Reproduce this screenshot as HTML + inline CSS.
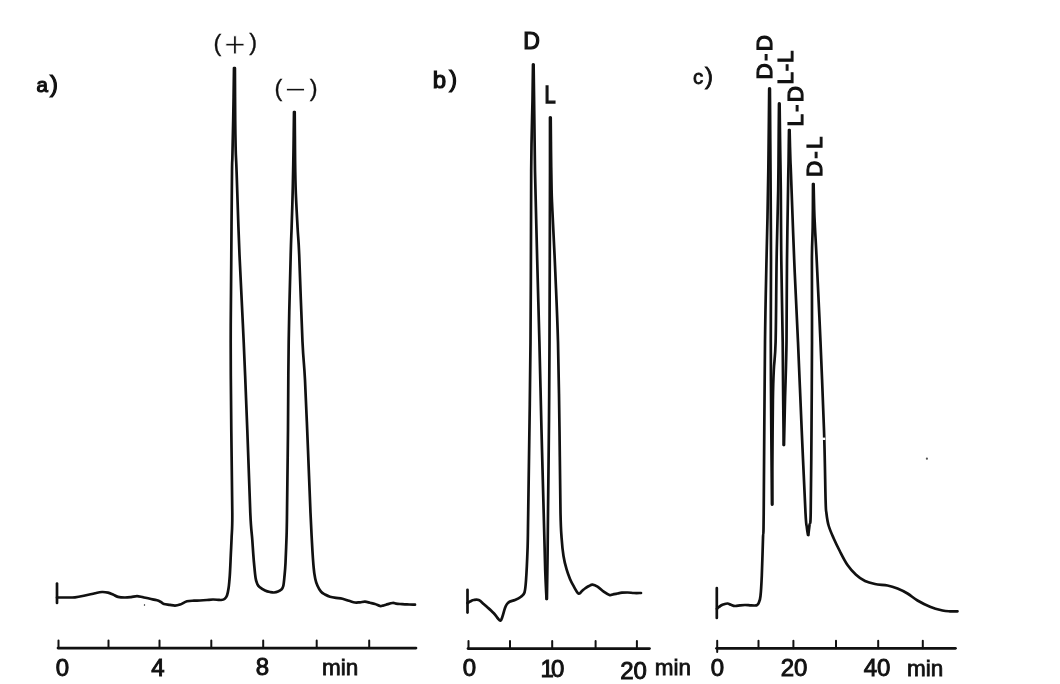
<!DOCTYPE html>
<html><head><meta charset="utf-8"><title>Chromatograms</title>
<style>
html,body{margin:0;padding:0;background:#fff;}
body{width:1060px;height:684px;overflow:hidden;}
svg{display:block;}
svg path{fill:none;stroke:#111;stroke-linecap:round;stroke-linejoin:round;}
svg text{font-family:"Liberation Sans","DejaVu Sans",sans-serif;fill:#111;}
svg text{stroke:none;}svg text.p{stroke:#111;stroke-width:0.35px;}svg text.b{stroke:#111;stroke-width:0.8px;}svg text.bb{stroke:#111;stroke-width:1.2px;}svg text.d{stroke:#111;stroke-width:0.95px;}svg .lt{stroke:#fff;stroke-width:0.9px;}
</style></head>
<body>
<svg width="1060" height="684" viewBox="0 0 1060 684">
<rect width="1060" height="684" fill="#fff"/>
<circle cx="926.9" cy="458.7" r="1.1" fill="#555"/><ellipse cx="144.5" cy="605" rx="0.7" ry="1.1" fill="#555"/><path d="M57.0 597.5 C58.5 597.5 63.0 597.5 66.0 597.5 C69.0 597.5 71.8 597.6 75.0 597.3 C78.2 597.0 81.7 596.2 85.0 595.5 C88.3 594.8 92.2 593.8 95.0 593.2 C97.8 592.6 99.8 592.1 102.0 592.0 C104.2 591.9 106.2 592.2 108.0 592.6 C109.8 593.0 111.3 593.8 113.0 594.5 C114.7 595.2 116.0 596.4 118.0 596.9 C120.0 597.4 122.8 597.5 125.0 597.5 C127.2 597.5 129.0 597.3 131.0 597.1 C133.0 596.9 135.0 596.1 137.0 596.1 C139.0 596.1 140.8 596.8 143.0 597.2 C145.2 597.7 147.7 598.3 150.0 598.8 C152.3 599.3 155.2 599.8 157.0 600.3 C158.8 600.8 159.8 601.4 161.0 602.0 C162.2 602.6 162.5 603.5 164.0 604.0 C165.5 604.5 168.2 604.6 170.0 604.9 C171.8 605.2 173.3 605.6 175.0 605.6 C176.7 605.6 178.0 605.3 180.0 604.6 C182.0 603.9 184.7 601.9 187.0 601.2 C189.3 600.6 191.8 600.8 194.0 600.7 C196.2 600.6 197.8 600.6 200.0 600.5 C202.2 600.4 204.8 600.2 207.0 600.0 C209.2 599.8 211.2 599.5 213.0 599.5 C214.8 599.5 216.7 599.7 218.0 599.8 C219.3 599.9 219.9 600.1 221.0 600.0 C222.1 599.9 223.5 599.8 224.5 599.0 C225.5 598.2 226.3 597.3 227.0 595.5 C227.7 593.7 228.1 591.3 228.6 588.0 C229.1 584.7 229.4 581.0 229.8 575.5 C230.2 570.0 230.5 561.2 230.8 555.0 C231.1 548.8 231.3 545.0 231.6 538.0 C231.8 531.0 232.4 531.0 232.3 513.0 C232.2 495.0 231.6 458.5 231.3 430.0 C231.0 401.5 230.7 371.2 230.7 342.0 C230.7 312.8 231.1 283.3 231.3 255.0 C231.5 226.7 231.8 188.3 232.0 172.0 C232.2 155.7 232.2 165.7 232.4 157.0 C232.6 148.3 232.9 134.8 233.2 120.0 C233.5 105.2 233.9 76.7 234.0 68.0" stroke-width="2.7"/>
<path d="M234.9 68.0 C234.9 76.7 235.1 106.3 235.2 120.0 C235.3 133.7 235.5 141.3 235.7 150.0 C235.9 158.7 236.0 154.5 236.6 172.0 C237.2 189.5 238.3 226.7 239.5 255.0 C240.7 283.3 242.4 312.8 243.7 342.0 C245.0 371.2 246.2 401.5 247.3 430.0 C248.4 458.5 249.5 494.7 250.3 513.0 C251.1 531.3 251.7 531.7 252.3 540.0 C252.9 548.3 253.4 556.7 254.0 563.0 C254.6 569.3 255.0 574.5 255.6 578.0 C256.1 581.5 256.7 582.5 257.3 584.0 C257.9 585.5 258.2 585.9 259.5 587.0 C260.8 588.1 263.2 589.7 265.0 590.5 C266.8 591.3 268.5 591.7 270.0 592.0 C271.5 592.3 272.7 592.6 274.0 592.5 C275.3 592.4 276.8 592.1 278.0 591.6 C279.2 591.1 280.1 590.7 281.0 589.8 C281.9 588.9 282.7 588.5 283.3 586.0 C283.9 583.5 284.2 578.8 284.6 575.0 C285.0 571.2 285.2 569.2 285.5 563.0 C285.8 556.8 286.2 546.3 286.5 538.0 C286.8 529.7 286.8 531.0 287.0 513.0 C287.2 495.0 287.7 458.5 288.0 430.0 C288.3 401.5 288.2 371.2 288.7 342.0 C289.1 312.8 290.2 274.0 290.7 255.0 C291.2 236.0 291.2 239.3 291.6 228.0 C292.0 216.7 292.5 200.0 292.8 187.0 C293.1 174.0 293.3 162.5 293.5 150.0 C293.7 137.5 293.9 118.3 294.0 112.0" stroke-width="2.7"/>
<path d="M294.7 112.0 C294.8 118.3 294.9 137.5 295.0 150.0 C295.1 162.5 295.2 174.0 295.6 187.0 C296.0 200.0 297.0 216.7 297.6 228.0 C298.2 239.3 298.4 236.0 299.2 255.0 C300.0 274.0 301.5 321.2 302.5 342.0 C303.5 362.8 304.1 362.0 305.0 380.0 C305.9 398.0 307.1 427.8 308.0 450.0 C308.9 472.2 309.8 497.5 310.5 513.0 C311.2 528.5 311.5 533.8 312.0 543.0 C312.5 552.2 313.1 562.0 313.7 568.0 C314.2 574.0 314.7 576.0 315.3 579.0 C315.9 582.0 316.6 583.7 317.5 585.8 C318.4 587.9 319.8 590.2 321.0 591.7 C322.2 593.2 323.5 593.7 325.0 594.5 C326.5 595.3 328.2 596.2 330.0 596.7 C331.8 597.2 333.9 597.5 336.0 597.8 C338.1 598.1 340.3 598.2 342.5 598.7 C344.7 599.2 346.9 600.2 349.0 600.8 C351.1 601.4 353.2 602.2 355.0 602.5 C356.8 602.8 358.3 602.4 360.0 602.3 C361.7 602.2 363.3 601.6 365.0 601.7 C366.7 601.8 368.3 602.4 370.0 602.8 C371.7 603.2 373.3 603.5 375.0 604.0 C376.7 604.5 378.7 605.7 380.0 606.0 C381.3 606.3 382.0 605.8 383.0 605.6 C384.0 605.4 384.4 605.1 386.0 604.7 C387.6 604.3 390.8 603.2 392.5 603.0 C394.2 602.8 394.8 603.4 396.0 603.6 C397.2 603.8 398.2 603.9 400.0 604.0 C401.8 604.1 404.5 604.3 407.0 604.4 C409.5 604.5 413.7 604.7 415.0 604.7" stroke-width="2.7"/>
<path d="M57.0 583.5 L57.0 603.0" stroke-width="2.7"/>
<path d="M58.5 648.1 V640.5 M108.5 648.1 V640.5 M159.5 648.1 V640.5 M211.3 648.1 V640.5 M263.2 648.1 V640.5 M316.7 648.1 V640.5 M369.2 648.1 V640.5" stroke-width="2.0"/>
<path d="M58.0 648.1 H416.0" stroke-width="2.7"/>
<path d="M467.5 603.0 C468.0 602.7 469.5 601.8 470.5 601.3 C471.5 600.8 472.3 600.2 473.7 600.0 C475.1 599.8 477.0 599.3 478.7 600.0 C480.4 600.7 482.3 602.8 483.7 604.0 C485.1 605.2 485.8 605.9 487.0 607.0 C488.2 608.1 489.8 609.3 491.0 610.5 C492.2 611.7 493.4 612.8 494.5 614.0 C495.6 615.2 496.5 616.9 497.5 618.0 C498.5 619.1 499.7 620.9 500.5 620.7 C501.3 620.5 501.6 619.1 502.3 617.0 C503.1 614.9 504.2 610.2 505.0 608.0 C505.8 605.8 506.2 605.0 507.0 604.0 C507.8 603.0 508.2 602.4 509.5 601.7 C510.8 601.0 513.1 600.8 515.0 600.0 C516.9 599.2 519.4 598.0 521.0 596.7 C522.6 595.5 523.7 595.2 524.5 592.5 C525.3 589.8 525.5 587.5 526.0 580.5 C526.5 573.5 527.1 561.8 527.5 550.5 C527.9 539.2 527.7 547.8 528.2 513.0 C528.7 478.2 530.0 399.0 530.5 342.0 C531.0 285.0 530.9 211.3 531.2 171.0 C531.5 130.7 532.2 117.8 532.5 100.0 C532.8 82.2 532.9 70.4 533.0 64.5" stroke-width="2.7"/>
<path d="M533.6 64.5 C533.7 72.1 534.0 92.2 534.2 110.0 C534.4 127.8 534.5 146.0 535.0 171.0 C535.5 196.0 536.5 231.5 537.2 260.0 C537.9 288.5 538.7 313.7 539.4 342.0 C540.1 370.3 540.8 401.5 541.5 430.0 C542.2 458.5 543.1 489.7 543.7 513.0 C544.3 536.3 544.7 555.7 545.2 570.0 C545.7 584.3 546.3 594.2 546.5 599.0" stroke-width="2.7"/>
<path d="M546.9 599.0 C547.0 592.5 547.3 574.3 547.5 560.0 C547.7 545.7 547.8 536.3 548.0 513.0 C548.2 489.7 548.8 448.5 549.0 420.0 C549.2 391.5 549.3 383.5 549.5 342.0 C549.7 300.5 549.9 208.4 550.0 171.0 C550.1 133.6 550.0 126.4 550.0 117.5" stroke-width="2.7"/>
<path d="M550.7 117.5 C550.8 122.9 550.9 137.9 551.0 150.0 C551.1 162.1 551.4 179.8 551.6 190.0 C551.8 200.2 551.8 197.3 552.4 211.0 C553.0 224.7 554.4 250.2 555.3 272.0 C556.2 293.8 557.3 315.7 558.0 342.0 C558.7 368.3 559.1 401.5 559.5 430.0 C559.9 458.5 560.1 495.0 560.5 513.0 C560.9 531.0 561.1 530.8 561.6 538.0 C562.1 545.2 562.7 550.8 563.5 556.0 C564.3 561.2 565.5 565.6 566.6 569.4 C567.7 573.2 568.8 576.0 570.0 578.9 C571.2 581.8 572.5 584.1 573.9 586.6 C575.3 589.1 577.2 592.9 578.6 593.6 C580.0 594.3 580.9 591.9 582.0 591.0 C583.1 590.1 583.8 589.3 585.0 588.5 C586.2 587.7 587.8 586.6 589.0 586.0 C590.2 585.4 591.1 584.6 592.5 584.7 C593.9 584.8 595.6 585.5 597.5 586.7 C599.4 587.9 601.7 590.3 603.7 591.7 C605.7 593.1 608.0 594.5 609.5 595.0 C611.0 595.5 611.7 594.6 613.0 594.4 C614.3 594.1 616.0 593.8 617.5 593.5 C619.0 593.2 620.3 592.9 622.0 592.7 C623.7 592.5 625.5 592.5 627.5 592.5 C629.5 592.5 631.8 592.9 634.0 593.0 C636.2 593.1 639.8 593.0 641.0 593.0" stroke-width="2.7"/>
<path d="M467.5 589.8 L467.5 612.6" stroke-width="2.7"/>
<path d="M468.5 648.6 V641.0 M510.0 648.6 V641.0 M552.2 648.6 V641.0 M595.6 648.6 V641.0 M636.9 648.6 V641.0" stroke-width="2.0"/>
<path d="M468.0 648.6 H649.5" stroke-width="2.7"/>
<path d="M717.0 608.7 C717.3 608.4 718.3 607.5 719.0 607.0 C719.7 606.5 720.2 606.0 721.0 605.5 C721.8 605.0 722.9 604.5 724.0 604.2 C725.1 603.9 726.3 603.4 727.5 603.5 C728.7 603.6 729.8 604.4 731.0 604.8 C732.2 605.2 733.5 605.9 735.0 606.0 C736.5 606.1 738.3 605.6 740.0 605.4 C741.7 605.2 743.3 605.0 745.0 605.0 C746.7 605.0 748.3 605.2 750.0 605.3 C751.7 605.4 753.8 605.6 755.0 605.5 C756.2 605.4 756.6 605.3 757.3 604.8 C757.9 604.3 758.4 604.0 758.9 602.5 C759.4 601.0 760.0 600.5 760.5 596.0 C761.0 591.5 761.4 585.2 761.8 575.5 C762.2 565.8 762.7 548.4 763.0 538.0 C763.3 527.6 763.4 545.7 763.7 513.0 C764.0 480.3 764.5 384.2 765.0 342.0 C765.5 299.8 766.1 280.8 766.5 260.0 C766.9 239.2 767.2 231.8 767.5 217.0 C767.8 202.2 768.1 187.2 768.3 171.0 C768.5 154.8 768.8 133.7 768.9 120.0 C769.0 106.3 769.2 93.9 769.2 88.7" stroke-width="2.7"/>
<path d="M769.9 88.7 C770.0 95.6 770.1 116.3 770.2 130.0 C770.3 143.7 770.4 156.5 770.5 171.0 C770.6 185.5 770.7 202.2 770.8 217.0 C770.9 231.8 771.0 239.2 771.0 260.0 C771.0 280.8 770.8 313.7 770.8 342.0 C770.8 370.3 771.1 402.9 771.3 430.0 C771.5 457.1 771.9 492.1 772.0 504.5" stroke-width="2.7"/>
<path d="M772.3 504.5 C772.3 497.1 772.3 477.4 772.4 460.0 C772.5 442.6 772.7 415.0 772.9 400.0 C773.1 385.0 773.3 379.7 773.8 370.0 C774.2 360.3 775.1 360.3 775.6 342.0 C776.1 323.7 776.2 285.3 776.6 260.0 C777.0 234.7 777.9 208.3 778.2 190.0 C778.5 171.7 778.5 164.4 778.6 150.0 C778.7 135.6 778.9 111.4 779.0 103.7" stroke-width="2.7"/>
<path d="M779.6 103.7 C779.7 111.4 780.0 135.6 780.2 150.0 C780.4 164.4 780.6 171.7 780.8 190.0 C781.0 208.3 781.0 234.7 781.3 260.0 C781.6 285.3 782.4 318.7 782.7 342.0 C783.0 365.3 783.0 382.8 783.2 400.0 C783.4 417.2 783.6 437.5 783.7 445.0" stroke-width="2.7"/>
<path d="M784.0 445.0 C784.2 437.5 784.6 417.2 785.0 400.0 C785.4 382.8 786.2 365.3 786.5 342.0 C786.8 318.7 786.7 287.0 787.0 260.0 C787.3 233.0 787.9 196.7 788.2 180.0 C788.5 163.3 788.5 168.3 788.6 160.0 C788.7 151.7 788.9 135.0 789.0 130.0" stroke-width="2.7"/>
<path d="M789.6 130.0 C789.7 135.0 790.1 151.7 790.4 160.0 C790.7 168.3 790.6 163.3 791.2 180.0 C791.8 196.7 793.1 233.0 794.2 260.0 C795.3 287.0 796.8 313.7 798.0 342.0 C799.2 370.3 800.5 401.5 801.7 430.0 C803.0 458.5 804.6 496.8 805.5 513.0 C806.4 529.2 806.4 523.3 806.8 527.0 C807.2 530.7 807.8 533.7 808.0 535.0" stroke-width="2.7"/>
<path d="M808.3 535.0 C808.5 533.3 809.1 528.7 809.5 525.0 C809.9 521.3 810.4 528.8 810.7 513.0 C811.0 497.2 811.3 458.5 811.5 430.0 C811.7 401.5 811.9 370.3 812.0 342.0 C812.1 313.7 811.8 279.2 811.9 260.0 C812.0 240.8 812.5 239.7 812.7 227.0 C812.9 214.3 813.0 191.2 813.0 184.0" stroke-width="2.7"/>
<path d="M813.6 184.0 C813.7 188.3 814.0 202.7 814.2 210.0 C814.4 217.3 814.6 219.7 815.0 228.0 C815.4 236.3 815.8 241.0 816.7 260.0 C817.6 279.0 819.3 313.7 820.5 342.0 C821.7 370.3 823.1 403.7 824.0 430.0 C824.9 456.3 825.2 486.2 825.6 500.0 C826.0 513.8 825.9 508.8 826.4 513.0 C826.9 517.2 827.4 521.3 828.6 525.5 C829.8 529.7 831.6 533.7 833.5 538.0 C835.4 542.3 837.7 547.0 840.0 551.5 C842.3 556.0 844.8 561.1 847.5 565.0 C850.2 568.9 853.1 572.1 856.0 574.8 C858.9 577.5 861.8 579.5 865.0 581.0 C868.2 582.5 871.2 583.2 875.0 584.0 C878.8 584.8 883.8 584.8 887.5 585.5 C891.2 586.2 894.2 587.2 897.5 588.5 C900.8 589.8 904.2 591.5 907.5 593.5 C910.8 595.5 913.8 598.3 917.5 600.5 C921.2 602.7 925.8 605.0 930.0 606.7 C934.2 608.4 939.2 609.7 942.5 610.5 C945.8 611.3 947.5 611.2 950.0 611.3 C952.5 611.4 956.2 611.3 957.5 611.3" stroke-width="2.7"/>
<path d="M716.8 588.0 L716.8 618.0" stroke-width="2.7"/>
<path d="M717.2 648.0 L717.2 652.0" stroke-width="2.0"/>
<path d="M717.2 648.3 V640.7 M758.5 648.3 V640.7 M793.4 648.3 V640.7 M836.0 648.3 V640.7 M878.2 648.3 V640.7 M922.8 648.3 V640.7" stroke-width="2.0"/>
<path d="M716.5 648.3 H955.5" stroke-width="2.7"/>
<text x="62.5" y="675.5" font-size="24.0" text-anchor="middle" class="d">0</text>
<text x="158.0" y="675.5" font-size="24.0" text-anchor="middle" class="d">4</text>
<text x="262.5" y="675.3" font-size="24.0" text-anchor="middle" class="d">8</text>
<text x="322.0" y="675.0" font-size="22.5" text-anchor="start" class="b">min</text>
<text x="469.5" y="676.0" font-size="24.0" text-anchor="middle" class="d">0</text>
<text class="d" x="540.4" y="676.6" font-size="24"><tspan letter-spacing="-2.8">1</tspan>0</text>
<text x="633.5" y="678.5" font-size="24.0" text-anchor="middle" class="d">20</text>
<text x="654.7" y="675.0" font-size="22.5" text-anchor="start" class="b">min</text>
<text x="717.5" y="676.2" font-size="24.0" text-anchor="middle" class="d">0</text>
<text x="794.0" y="676.3" font-size="24.0" text-anchor="middle" class="d">20</text>
<text x="877.0" y="676.3" font-size="24.0" text-anchor="middle" class="d">40</text>
<text x="907.0" y="675.5" font-size="22.5" text-anchor="start" class="b">min</text>
<text class="bb" x="36.6" y="91.8" font-size="20.5">a<tspan x="50" y="92" font-size="23.9">)</tspan></text>
<text class="bb" x="432.8" y="87.5" font-size="24">b<tspan x="449.3" y="86.7" font-size="23.4">)</tspan></text>
<text class="b" x="693" y="84" font-size="20.5">c<tspan x="705" y="83.7" font-size="24">)</tspan></text>
<text class="p" font-size="23.4"><tspan x="213.6" y="50.5">(</tspan><tspan class="lt" x="224" y="57" font-size="37.5">+</tspan><tspan x="249.3" y="50.3">)</tspan></text>
<text class="p" font-size="23.4"><tspan x="274.4" y="95.8">(</tspan><tspan class="lt" x="284.5" y="101.9" font-size="37.5">−</tspan><tspan x="309.8" y="95.6">)</tspan></text>
<text x="531.5" y="49.3" font-size="23.0" text-anchor="middle" class="bb">D</text>
<text class="bb" transform="translate(544.6 102.7) scale(1 1.17)" font-size="20">L</text>
<text class="bb" transform="translate(771.8 79.6) rotate(-90)" font-size="22.5" textLength="44.5" lengthAdjust="spacing">D-D</text>
<text class="bb" transform="translate(793.0 84.4) rotate(-90)" font-size="22.5" textLength="34.0" lengthAdjust="spacing">L-L</text>
<text class="bb" transform="translate(803.0 126.5) rotate(-90)" font-size="22.5" textLength="40.5" lengthAdjust="spacing">L-D</text>
<text class="bb" transform="translate(822.2 177.0) rotate(-90)" font-size="22.5" textLength="40.5" lengthAdjust="spacing">D-L</text>
<rect x="820.3" y="437.6" width="5" height="2.4" fill="#fff"/>
</svg>
</body></html>
